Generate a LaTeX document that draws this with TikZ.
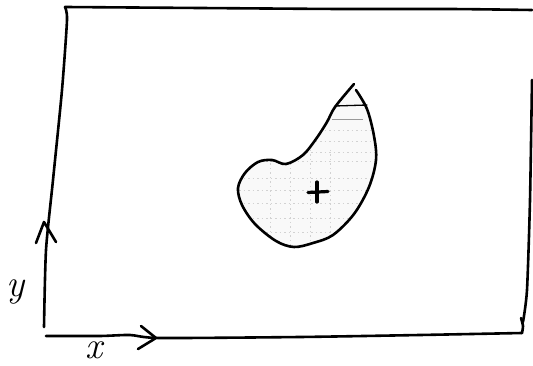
\documentclass[tikz,border=0pt]{standalone}
\usetikzlibrary{calc}
\begin{document}
\begin{tikzpicture}[x=1pt,y=-1pt,
  pen/.style={line width=2.6pt,line cap=round,line join=round,black},
  hatch/.style={gray!35,line width=0.5pt,dash pattern=on 1.5pt off 3pt},
  lbl/.style={font=\fontsize{38}{40}\selectfont\itshape,inner sep=0pt}]
\useasboundingbox (0,0) rectangle (533,366);
% frame corners
\coordinate (tl) at (65,7);
\coordinate (tr) at (532,10);
\coordinate (br) at (522,332);
\coordinate (bl) at (45,336);
% frame
\draw[pen] plot[smooth,tension=0.4] coordinates {(65,7) (200,8) (340,9) (450,9) (532,10)};
\draw[pen] plot[smooth,tension=0.4] coordinates {(532,80) (530,200) (527,290) (523,322)};
\draw[pen] plot[smooth,tension=0.4] coordinates {(521,318) (523,326) (522,333)};
\draw[pen] plot[smooth,tension=0.4] coordinates {(65,7) (67,20) (62,90) (53,180) (46,250) (44,327)};
\draw[pen] plot[smooth,tension=0.4] coordinates {(46,336) (100,336) (130,335) (160,338) (300,337) (420,335) (522,333)};
% axis arrowheads
\coordinate (ya) at (44,222);
\coordinate (xa) at (156,338);
\draw[pen] (36,243) -- (ya) -- (56,242);
\draw[pen] (141,326) -- (xa) -- (138,349);
% labels
\node[lbl,anchor=base] (ylab) at (16,297) {y};
\node[lbl,anchor=base] (xlab) at (94,358) {x};
% blob
\coordinate (tipL) at (354,84);
\coordinate (tipR) at (356,90);
\path[fill=gray!5] plot[smooth,tension=0.55] coordinates {
 (354,84) (335,107) (327,122) (316,139) (303,155) (286,164) (272,160) (258,162)
 (245,173) (238,188) (242,205) (255,224) (276,241) (294,247) (313,243) (333,235)
 (354,214) (369,187) (376,160) (374,136) (367,109) (356,90)} -- cycle;
\begin{scope}
\clip plot[smooth,tension=0.55] coordinates {
 (354,84) (335,107) (327,122) (316,139) (303,155) (286,164) (272,160) (258,162)
 (245,173) (238,188) (242,205) (255,224) (276,241) (294,247) (313,243) (333,235)
 (354,214) (369,187) (376,160) (374,136) (367,109) (356,90)} -- cycle;
\foreach \yy in {130,141,152,161,178,190,203,218,232}
  \draw[hatch] (230,\yy) -- (380,\yy);
\foreach \xx in {270,290,310,330}
  \draw[hatch] (\xx,150) -- (\xx,250);
\end{scope}
\draw[pen] plot[smooth,tension=0.55] coordinates {
 (354,84) (335,107) (327,122) (316,139) (303,155) (286,164) (272,160) (258,162)
 (245,173) (238,188) (242,205) (255,224) (276,241) (294,247) (313,243) (333,235)
 (354,214) (369,187) (376,160) (374,136) (367,109) (356,90)};
\draw[line width=1.3pt,line cap=round] (335,106) -- (367,105);
\draw[gray!80,line width=0.8pt] (332,119) -- (363,119);
% centroid cross
\coordinate (c) at (317,192);
\draw[pen,line width=3.2pt] ($(c)+(-9,0.5)$) -- ($(c)+(11,-0.5)$);
\draw[pen,line width=3.2pt] ($(c)+(0,-10)$) -- ($(c)+(0,10)$);
\end{tikzpicture}
\end{document}
